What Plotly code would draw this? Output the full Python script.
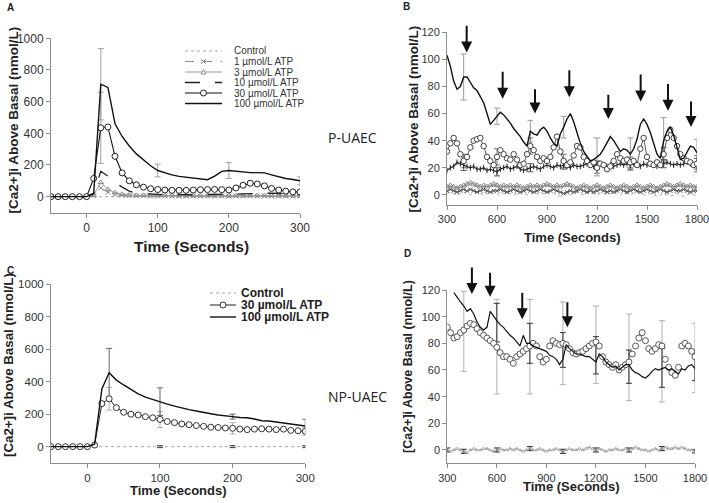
import plotly.graph_objects as go

W, H = 709, 503

# ---------------- DATA ----------------
# Panels A and C: time (s)
tA = list(range(-50, 301, 10))
A_ctrl = [0, 0, 1, 0, 0, 0, 1, 2, 1, 0, 1, 0, 0, 1, 0, 0, 1, 0, 0, 0, 1, 0, 0, 1, 0, 0, 0, 1, 0, 0, 1, 0, 0, 0, 1, 0]
A_1 = [0, 0, 0, 0, 0, 0, 5, 55, 28, 14, 8, 6, 5, 5, 4, 4, 5, 4, 4, 3, 4, 4, 5, 4, 4, 3, 4, 4, 5, 4, 4, 4, 3, 4, 4, 4]
A_3 = [0, 0, 0, 0, 0, 0, 10, 90, 45, 25, 15, 10, 8, 8, 7, 7, 7, 6, 6, 6, 6, 6, 6, 6, 6, 6, 6, 6, 7, 7, 7, 6, 6, 6, 6, 6]
A_10 = [0, 0, 0, 0, 0, 0, 20, 160, 130, 90, 60, 35, 22, 18, 15, 14, 13, 12, 12, 12, 12, 13, 13, 14, 15, 15, 16, 18, 20, 22, 24, 22, 20, 18, 16, 15]
A_30 = [0, 0, 0, 0, 0, 0, 115, 435, 440, 255, 150, 100, 75, 60, 50, 45, 42, 40, 40, 40, 42, 44, 45, 46, 44, 42, 55, 72, 85, 80, 68, 52, 42, 35, 30, 30]
A_100 = [0, 0, 0, 0, 0, 0, 20, 710, 690, 460, 380, 320, 270, 230, 195, 165, 150, 138, 128, 122, 118, 112, 107, 130, 160, 165, 160, 155, 152, 152, 150, 138, 125, 115, 108, 100]
A_err_t = [20, 100, 200, 300]
A_err_100 = [225, 40, 50, 25]
A_err_30_t = [20]
A_err_30 = [225]

C_ctrl = [0] * 36
C_30 = [0, 0, 0, 0, 0, 0, 10, 265, 295, 240, 212, 200, 195, 185, 178, 168, 155, 148, 140, 135, 130, 125, 120, 118, 115, 113, 108, 105, 108, 110, 108, 105, 108, 100, 98, 95]
C_100 = [0, 0, 0, 0, 0, 0, 15, 355, 455, 410, 380, 350, 325, 305, 290, 277, 262, 250, 238, 228, 220, 210, 203, 195, 188, 185, 180, 178, 170, 160, 158, 152, 145, 140, 135, 127]
C_err_t = [30, 100, 200, 300]
C_err_100 = [150, 85, 15, 42]
C_err_30 = [70, 50, 35, 25]
C_err_ctrl_t = [100, 200, 300]
C_err_ctrl = [6, 6, 6]

# Panel B: time (s)
tB = list(range(300, 1801, 20))
B_100 = [103, 95, 84, 78, 80, 87, 87, 83, 79, 77,
         73, 68, 60, 52, 55, 58, 61, 59, 56, 53,
         49, 46, 43, 39, 36, 47, 45, 44, 48, 50,
         47, 42, 38, 36, 45, 50, 56, 60, 54, 46,
         38, 32, 28, 25, 26, 28, 30, 34, 38, 43,
         40, 36, 32, 34, 33, 30, 34, 41, 52, 56,
         52, 46, 38, 30, 27, 40, 47, 50, 44, 35,
         26, 27, 31, 36, 35, 31]
B_30 = [32, 38, 42, 38, 30, 25, 28, 35, 40, 41,
        42, 36, 28, 25, 22, 28, 33, 30, 27, 26,
        30, 26, 22, 23, 30, 36, 33, 28, 25, 27,
        25, 28, 35, 43, 32, 25, 22, 24, 29, 36,
        35, 28, 25, 22, 24, 20, 23, 22, 19, 21,
        25, 30, 27, 25, 26, 24, 25, 22, 34, 42,
        28, 23, 22, 24, 22, 30, 42, 48, 42, 36,
        30, 27, 25, 24, 22, 23]
B_10 = [18, 20, 21, 24, 23, 22, 21, 20, 21, 19,
        19, 20, 18, 19, 18, 17, 19, 20, 21, 19,
        20, 21, 19, 18, 19, 20, 21, 20, 19, 21,
        22, 21, 20, 22, 21, 22, 21, 20, 22, 21,
        21, 22, 23, 22, 21, 22, 23, 22, 21, 22,
        21, 22, 23, 22, 23, 22, 23, 22, 21, 23,
        22, 23, 22, 21, 22, 23, 24, 23, 22, 23,
        22, 23, 24, 23, 22, 23]
B_3 = [6, 7, 6, 5, 6, 7, 8, 9, 8, 7,
       6, 7, 6, 7, 8, 7, 6, 7, 6, 7,
       6, 7, 6, 5, 6, 7, 6, 7, 6, 7,
       8, 7, 6, 7, 6, 7, 8, 7, 6, 5,
       6, 7, 6, 5, 6, 7, 6, 5, 6, 7,
       6, 5, 6, 7, 6, 5, 6, 7, 6, 5,
       6, 7, 6, 5, 6, 7, 8, 7, 6, 7,
       8, 7, 6, 7, 6, 6]
B_1 = [3, 4, 3, 2, 3, 4, 3, 4, 3, 2,
       3, 4, 3, 2, 3, 3, 4, 3, 2, 3,
       4, 3, 2, 3, 4, 3, 2, 3, 4, 3,
       2, 3, 4, 3, 2, 1, 2, 3, 2, 3,
       4, 3, 2, 3, 2, 3, 4, 3, 2, 3,
       2, 3, 4, 3, 2, 3, 4, 3, 2, 3,
       4, 3, 2, 3, 4, 3, 2, 3, 4, 3,
       3, 4, 3, 2, 3, 3]
B_ctrl = [1, 2, 1, 0, 1, 2, 1, 0, 1, 2,
          1, 0, 1, 2, 1, 0, 1, 1, 2, 1,
          0, 1, 2, 1, 0, 1, 2, 1, 0, 1,
          1, 2, 1, 0, -1, 0, 1, 0, 1, 2,
          1, 0, 1, 2, 1, 0, 1, 1, 0, 1,
          2, 1, 0, 1, 1, 0, 1, 2, 1, 0,
          0, 1, 0, -1, 0, 1, 0, -1, 0, 1,
          0, -1, 0, 1, 0, 0]
B_err_t = [400, 600, 800, 1000, 1200, 1400, 1600, 1800]
B_err_100 = [17, 6, 8, 8, 14, 12, 17, 10]
B_err_30 = [5, 6, 6, 5, 4, 4, 5, 6]
B_err_10 = [4, 3, 3, 3, 3, 3, 3, 4]
B_arrow_t = [418, 634, 828, 1034, 1268, 1462, 1626, 1764]
B_arrow_tip = [105, 71, 60, 72, 56, 69, 62, 50]
B_arrow_tail = [126, 92, 79, 93, 75, 90, 83, 70]

# Panel D: time (s)
tD = list(range(300, 1801, 20))
tD100 = list(range(340, 1801, 20))
D_100 = [118, 114, 111, 108, 104, 106, 102, 96, 92, 90,
         92, 104, 100, 97, 94, 92, 89, 86, 84, 81,
         78, 86, 80, 80, 78, 77, 76, 75, 74, 71,
         70, 68, 64, 68, 79, 76, 74, 72, 72, 71,
         70, 70, 68, 66, 72, 70, 66, 64, 62, 63,
         60, 62, 64, 64, 60, 58, 57, 55, 54, 56,
         59, 61, 60, 61, 62, 60, 61, 59, 57, 61,
         60, 63, 64, 61]
D_30 = [92, 88, 84, 85, 88, 90, 93, 95, 94, 91,
        88, 86, 84, 82, 80, 77, 73, 70, 70, 68,
        65, 70, 72, 74, 76, 78, 80, 78, 70, 66,
        68, 78, 82, 80, 79, 80, 79, 76, 73, 72,
        73, 74, 76, 78, 80, 81, 78, 70, 66, 64,
        62, 64, 60, 62, 64, 66, 72, 78, 84, 88,
        82, 76, 74, 76, 79, 78, 68, 62, 58, 56,
        62, 78, 80, 78, 74, 70]
D_ctrl = [0, -1, 0, 1, 0, -1, -2, 0, 1, 0,
          0, 1, 1, 0, -1, 0, 1, 0, 0, 1,
          0, 1, 0, -1, 0, 1, 0, 0, 1, 0,
          -1, 0, 0, 1, 0, -1, 0, 1, 0, 0,
          1, 0, 1, 2, 1, 0, 1, 0, -1, 0,
          0, 1, 0, 0, 1, 0, 1, 2, 1, 0,
          0, -1, 0, 1, 0, 1, 2, 1, 1, 2,
          1, 2, 1, 0, 0, -1]
D_err30_t = [400, 600, 800, 1000, 1200, 1400, 1600, 1800]
D_err30_plus = [29, 36, 35, 31, 27, 36, 19, 25]
D_err30_minus = [31, 35, 36, 31, 31, 29, 42, 27]
D_err100_t = [600, 800, 1000, 1200, 1400, 1600, 1800]
D_err100_plus = [13, 15, 20, 19, 11, 15, 14]
D_err100_minus = [16, 15, 6, 9, 14, 14, 9]
D_errctrl_t = [300, 400, 600, 800, 1000, 1200, 1400, 1600, 1800]
D_errctrl = [1.5, 1.5, 1.5, 1.5, 1.5, 1.5, 1.5, 1.5, 1.2]
D_arrow_t = [449, 559, 754, 1027]
D_arrow_tip = [117, 115, 98, 92]
D_arrow_tail = [138, 134, 119, 112]

# ---------------- FIGURE ----------------
def fx(p):
    return p / W


def fy(p):
    return 1 - p / H


fig = go.Figure()
FONT = "Liberation Sans, Arial, sans-serif"


def add(ax, x, y, **kw):
    fig.add_trace(go.Scatter(x=x, y=y, xaxis=ax[0], yaxis=ax[1],
                             showlegend=False, hoverinfo="skip", **kw))


def pick(ts, tlist, vals):
    return [vals[tlist.index(t)] for t in ts]


def errbars(ax, ts, tlist, vals, plus, minus=None, color="#a0a0a0", width=3):
    ey = dict(type="data", array=plus, color=color, thickness=1, width=width)
    if minus is not None:
        ey.update(symmetric=False, arrayminus=minus)
    add(ax, ts, pick(ts, tlist, vals), mode="markers",
        marker=dict(size=1, opacity=0), error_y=ey)


AXA, AXB, AXC, AXD = ("x", "y"), ("x2", "y2"), ("x3", "y3"), ("x4", "y4")
GREY_DOT = "#a8a8a8"

# ----- Panel A -----
errbars(AXA, A_err_t, tA, A_100, A_err_100)
errbars(AXA, A_err_30_t, tA, A_30, A_err_30)
add(AXA, tA, A_ctrl, mode="lines", line=dict(color=GREY_DOT, width=1, dash="dot"))
add(AXA, tA, A_1, mode="lines+markers", line=dict(color="#8a8a8a", width=1, dash="dash"),
    marker=dict(symbol="x-thin-open", size=5, line=dict(color="#6a6a6a", width=1)))
add(AXA, tA, A_3, mode="lines+markers", line=dict(color="#9a9a9a", width=1),
    marker=dict(symbol="triangle-up-open", size=5, color="#8a8a8a", line=dict(width=1)))
add(AXA, tA, A_10, mode="lines", line=dict(color="#222", width=1.3, dash="longdash"))
add(AXA, tA, A_30, mode="lines+markers", line=dict(color="#111", width=1.1),
    marker=dict(symbol="circle", size=6, color="white", line=dict(color="#222", width=1)))
add(AXA, tA, A_100, mode="lines", line=dict(color="#111", width=1.4))

# ----- Panel B -----
errbars(AXB, B_err_t, tB, B_100, B_err_100, color="#9a9a9a")
errbars(AXB, B_err_t, tB, B_30, B_err_30, color="#777")
errbars(AXB, B_err_t, tB, B_10, B_err_10, color="#555")
add(AXB, tB, B_ctrl, mode="lines", line=dict(color=GREY_DOT, width=1, dash="dot"))
add(AXB, tB, B_1, mode="lines+markers", line=dict(color="#555", width=1),
    marker=dict(symbol="x-thin-open", size=4, line=dict(color="#444", width=1)))
add(AXB, tB, B_3, mode="lines+markers", line=dict(color="#999", width=1),
    marker=dict(symbol="triangle-up-open", size=5, color="#888", line=dict(width=1)))
add(AXB, tB, B_10, mode="lines+markers", line=dict(color="#222", width=1.2),
    marker=dict(symbol="line-ns-open", size=4, line=dict(color="#222", width=1)))
add(AXB, tB, B_30, mode="lines+markers", line=dict(color="#333", width=0.8),
    marker=dict(symbol="circle", size=5.5, color="white", line=dict(color="#444", width=1)))
add(AXB, tB, B_100, mode="lines", line=dict(color="#111", width=1.4))

# ----- Panel C -----
errbars(AXC, C_err_t, tA, C_30, C_err_30, color="#b0b0b0")
errbars(AXC, C_err_t, tA, C_100, C_err_100, color="#666")
errbars(AXC, C_err_ctrl_t, tA, C_ctrl, C_err_ctrl, color="#333")
add(AXC, tA, C_ctrl, mode="lines", line=dict(color=GREY_DOT, width=1, dash="dot"))
add(AXC, tA, C_30, mode="lines+markers", line=dict(color="#222", width=1),
    marker=dict(symbol="circle", size=6, color="white", line=dict(color="#333", width=1)))
add(AXC, tA, C_100, mode="lines", line=dict(color="#111", width=1.4))

# ----- Panel D -----
errbars(AXD, D_err30_t, tD, D_30, D_err30_plus, D_err30_minus, color="#b0b0b0")
errbars(AXD, D_err100_t, tD100, D_100, D_err100_plus, D_err100_minus, color="#333")
errbars(AXD, D_errctrl_t, tD, D_ctrl, D_errctrl, color="#222")
add(AXD, tD, D_ctrl, mode="lines+markers", line=dict(color="#9a9a9a", width=1, dash="dot"),
    marker=dict(symbol="triangle-up-open", size=3, color="#999", line=dict(width=0.8)))
add(AXD, tD, D_30, mode="markers",
    marker=dict(symbol="circle", size=6, color="white", line=dict(color="#555", width=1)))
add(AXD, tD100, D_100, mode="lines", line=dict(color="#111", width=1.2))


# ----- Axes -----
def axis(size, **kw):
    d = dict(showline=True, linecolor="#8c8c8c", linewidth=1, ticks="outside", ticklen=4,
             tickcolor="#8c8c8c", showgrid=False, zeroline=False, automargin=False,
             ticklabeloverflow="allow",
             tickfont=dict(family=FONT, size=size, color="#333"))
    d.update(kw)
    return d


lay = dict(width=W, height=H, margin=dict(l=0, r=0, t=0, b=0, pad=0), autosize=False,
           plot_bgcolor="white", paper_bgcolor="white", showlegend=False)

lay["xaxis"] = axis(12, domain=[fx(51), fx(300)], range=[-50, 300], tickvals=[0, 100, 200, 300], anchor="y")
lay["yaxis"] = axis(12, domain=[fy(212.5), fy(38.3)], range=[-100, 1000], tickvals=[0, 200, 400, 600, 800, 1000], anchor="x")
lay["xaxis2"] = axis(11, domain=[fx(447), fx(697)], range=[300, 1800], tickvals=[300, 600, 900, 1200, 1500, 1800], anchor="y2")
lay["yaxis2"] = axis(11, domain=[fy(205), fy(32.3)], range=[-7.5, 120], tickvals=[0, 20, 40, 60, 80, 100, 120], anchor="x2")
lay["xaxis3"] = axis(11.5, domain=[fx(51), fx(305.3)], range=[-50, 300], tickvals=[0, 100, 200, 300], anchor="y3")
lay["yaxis3"] = axis(11.5, domain=[fy(462.9), fy(284.3)], range=[-100, 1000], tickvals=[0, 200, 400, 600, 800, 1000], anchor="x3")
lay["xaxis4"] = axis(11, domain=[fx(447.3), fx(695)], range=[300, 1800], tickvals=[300, 600, 900, 1200, 1500, 1800], anchor="y4")
lay["yaxis4"] = axis(11, domain=[fy(463.3), fy(290)], range=[-10, 120], tickvals=[0, 20, 40, 60, 80, 100, 120], anchor="x4")
fig.update_layout(**lay)

ann = []
shapes = []


def text(xp, yp, s, size=13, bold=False, angle=0, color="#222", xanchor="center", family=FONT):
    ann.append(dict(x=fx(xp), y=fy(yp), xref="paper", yref="paper", showarrow=False,
                    text=("<b>%s</b>" % s) if bold else s, textangle=angle,
                    font=dict(family=family, size=size, color=color),
                    xanchor=xanchor, yanchor="middle"))


YT = "[Ca2+]i Above Basal (nmol/L)"
XT = "Time (Seconds)"
text(13.5, 120, YT, 13.5, True, -90)
text(191, 247, XT, 15.5, True)
text(412.5, 119, YT, 13.5, True, -90)
text(572, 237, XT, 13, True)
text(8, 365, YT, 13.3, True, -90)
text(178, 490, XT, 13, True)
text(408, 367, YT, 12.5, True, -90)
text(571, 486, XT, 13, True)

text(4.5, 8, "A", 10, True, xanchor="left")
text(401, 7, "B", 10, True, xanchor="left")
text(4.5, 270, "C", 10, True, xanchor="left")
text(401.5, 253, "D", 10, True, xanchor="left")

text(352, 138, "P-UAEC", 14, family="Open Sans, sans-serif", color="#222")
text(357, 396, "NP-UAEC", 14, family="Open Sans, sans-serif", color="#222")

# arrows
for t, tip, tail in zip(B_arrow_t, B_arrow_tip, B_arrow_tail):
    ann.append(dict(x=t, y=tip, ax=t, ay=tail, xref="x2", yref="y2", axref="x2", ayref="y2",
                    text="", showarrow=True, arrowhead=2, arrowsize=1.1, arrowwidth=2, arrowcolor="#111"))
for t, tip, tail in zip(D_arrow_t, D_arrow_tip, D_arrow_tail):
    ann.append(dict(x=t, y=tip, ax=t, ay=tail, xref="x4", yref="y4", axref="x4", ayref="y4",
                    text="", showarrow=True, arrowhead=2, arrowsize=1.1, arrowwidth=2, arrowcolor="#111"))


# ----- manual legends -----
def seg(x0, x1, y, color, width=1, dash="solid"):
    shapes.append(dict(type="line", xref="paper", yref="paper", x0=fx(x0), x1=fx(x1),
                       y0=fy(y), y1=fy(y), line=dict(color=color, width=width, dash=dash)))


def circ(xc, yc, r, color):
    shapes.append(dict(type="circle", xref="paper", yref="paper", x0=fx(xc - r), x1=fx(xc + r),
                       y0=fy(yc + r), y1=fy(yc - r), fillcolor="white", line=dict(color=color, width=1)))


def tri(xc, yc, r, color):
    path = "M %f %f L %f %f L %f %f Z" % (fx(xc - r), fy(yc + r * 0.8), fx(xc + r), fy(yc + r * 0.8), fx(xc), fy(yc - r))
    shapes.append(dict(type="path", xref="paper", yref="paper", path=path,
                       fillcolor="white", line=dict(color=color, width=1)))


def xmark(xc, yc, r, color):
    seg_pts = [(xc - r, yc - r, xc + r, yc + r), (xc - r, yc + r, xc + r, yc - r)]
    for a, b, c, d in seg_pts:
        shapes.append(dict(type="line", xref="paper", yref="paper", x0=fx(a), y0=fy(b), x1=fx(c), y1=fy(d),
                           line=dict(color=color, width=1)))


A_leg = ["Control", "1 µmol/L ATP", "3 µmol/L ATP", "10 µmol/L ATP", "30 µmol/L ATP", "100 µmol/L ATP"]
rows = [51, 61.5, 72, 82.5, 93, 103.5]
x0, x1 = 185, 222
mid = (x0 + x1) / 2
seg(x0, x1, rows[0], GREY_DOT, 1, "dot")
seg(x0, x1, rows[1], "#8a8a8a", 1, "dash")
xmark(mid, rows[1], 2.2, "#6a6a6a")
seg(x0, x1, rows[2], "#9a9a9a", 1)
tri(mid, rows[2], 2.5, "#8a8a8a")
seg(x0, x1, rows[3], "#222", 1.3, "longdash")
seg(x0, x1, rows[4], "#111", 1.1)
circ(mid, rows[4], 3, "#222")
seg(x0, x1, rows[5], "#111", 1.4)
for lbl, r in zip(A_leg, rows):
    text(232, r, lbl, 10, color="#333", xanchor="left")

C_leg = ["Control", "30 µmol/L ATP", "100 µmol/L ATP"]
crow = [293, 305, 317]
cx0, cx1 = 210, 236
seg(cx0, cx1, crow[0], GREY_DOT, 1, "dot")
seg(cx0, cx1, crow[1], "#222", 1)
circ((cx0 + cx1) / 2, crow[1], 3, "#333")
seg(cx0, cx1, crow[2], "#111", 1.4)
for lbl, r in zip(C_leg, crow):
    text(239, r, lbl, 12, True, color="#222", xanchor="left")

fig.update_layout(annotations=ann, shapes=shapes)
fig.write_html("out.html", config={"displayModeBar": False, "responsive": False},
               post_script="document.body.style.margin='0';document.body.style.padding='0';"
                           "document.body.style.overflow='hidden';")
